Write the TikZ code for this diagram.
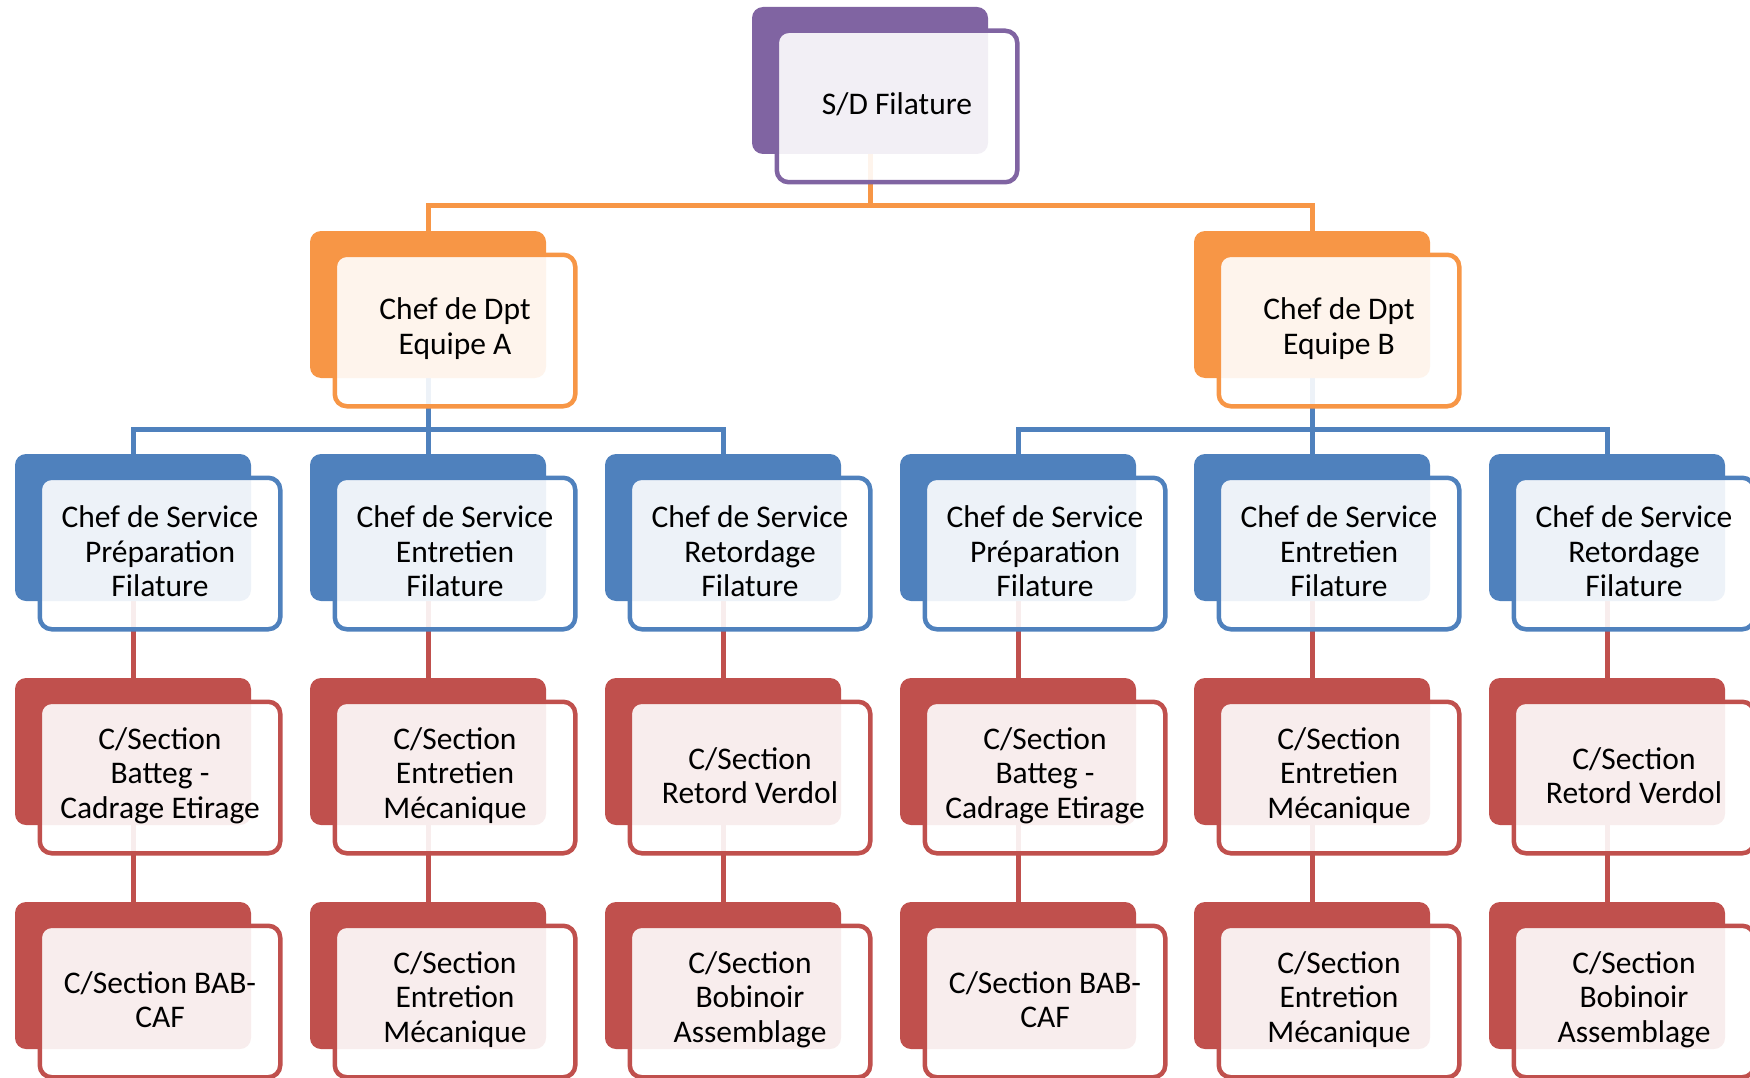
\documentclass[tikz,border=0pt]{standalone}
\usepackage{fontspec}
\setmainfont{Carlito}
\usetikzlibrary{backgrounds}

\definecolor{cPurple}{HTML}{8064A2}
\definecolor{cOrange}{HTML}{F79646}
\definecolor{cBlue}{HTML}{4F81BD}
\definecolor{cRed}{HTML}{C0504D}

% one unit of the chart: solid back card, white framed card, centred text
% #1 name, #2 #3 top-left corner of the back card, #4 colour, #5 text
\newcommand\orgunit[5]{%
  \node[backbox, fill=#4] (#1-b) at (#2+118,#3+73.5) {};
  \node[framebox, draw=#4] (#1) at (#2+145,#3+99.5) {};
  \node[unittext] (#1-t) at (#2+145,#3+97.5) {#5};
}

\begin{document}
\begin{tikzpicture}[x=1pt,y=-1pt,
  backbox/.style={rectangle, rounded corners=11pt, draw=none, inner sep=0pt,
    minimum width=236pt, minimum height=147pt},
  framebox/.style={rectangle, rounded corners=12pt, line width=4.5pt, fill=white,
    fill opacity=0.9, inner sep=0pt, minimum width=240.5pt, minimum height=151.5pt},
  unittext/.style={align=center, font=\fontsize{31.5}{34.6}\selectfont,
    text=black, inner sep=0pt},
  link/.style={line width=5pt}]

\useasboundingbox (0,0) rectangle (1750,1078);
\clip (0,0) rectangle (1750,1078);

% level 1
\orgunit{sd}{752}{7}{cPurple}{S/D Filature}

% level 2
\orgunit{dA}{310}{231}{cOrange}{Chef de Dpt\\Equipe A}
\orgunit{dB}{1194}{231}{cOrange}{Chef de Dpt\\Equipe B}

% level 3
\orgunit{s1}{15}{454}{cBlue}{Chef de Service\\Préparation\\Filature}
\orgunit{s2}{310}{454}{cBlue}{Chef de Service\\Entretien\\Filature}
\orgunit{s3}{605}{454}{cBlue}{Chef de Service\\Retordage\\Filature}
\orgunit{s4}{900}{454}{cBlue}{Chef de Service\\Préparation\\Filature}
\orgunit{s5}{1194}{454}{cBlue}{Chef de Service\\Entretien\\Filature}
\orgunit{s6}{1489}{454}{cBlue}{Chef de Service\\Retordage\\Filature}

% level 4
\orgunit{c1}{15}{678}{cRed}{C/Section\\Batteg -\\Cadrage Etirage}
\orgunit{c2}{310}{678}{cRed}{C/Section\\Entretien\\Mécanique}
\orgunit{c3}{605}{678}{cRed}{C/Section\\Retord Verdol}
\orgunit{c4}{900}{678}{cRed}{C/Section\\Batteg -\\Cadrage Etirage}
\orgunit{c5}{1194}{678}{cRed}{C/Section\\Entretien\\Mécanique}
\orgunit{c6}{1489}{678}{cRed}{C/Section\\Retord Verdol}

% level 5
\orgunit{e1}{15}{902}{cRed}{C/Section BAB-\\CAF}
\orgunit{e2}{310}{902}{cRed}{C/Section\\Entretion\\Mécanique}
\orgunit{e3}{605}{902}{cRed}{C/Section\\Bobinoir\\Assemblage}
\orgunit{e4}{900}{902}{cRed}{C/Section BAB-\\CAF}
\orgunit{e5}{1194}{902}{cRed}{C/Section\\Entretion\\Mécanique}
\orgunit{e6}{1489}{902}{cRed}{C/Section\\Bobinoir\\Assemblage}

\coordinate (busTop) at (0,206);
\coordinate (busMid) at (0,429);

\begin{scope}[on background layer]
  % S/D to the two departments
  \draw[link, cOrange] (sd-b.south) -- (sd-b.south |- busTop) -| (dA-b.north);
  \draw[link, cOrange] (sd-b.south |- busTop) -| (dB-b.north);
  % departments to services
  \draw[link, cBlue] (dA-b.south) -- (s2-b.north);
  \draw[link, cBlue] (s1-b.north) |- (busMid -| dA-b.south) -| (s3-b.north);
  \draw[link, cBlue] (dB-b.south) -- (s5-b.north);
  \draw[link, cBlue] (s4-b.north) |- (busMid -| dB-b.south) -| (s6-b.north);
  % services to sections
  \foreach \i in {1,...,6} {
    \draw[link, cRed] (s\i-b.south) -- (c\i-b.north);
    \draw[link, cRed] (c\i-b.south) -- (e\i-b.north);
  }
\end{scope}
\end{tikzpicture}
\end{document}
